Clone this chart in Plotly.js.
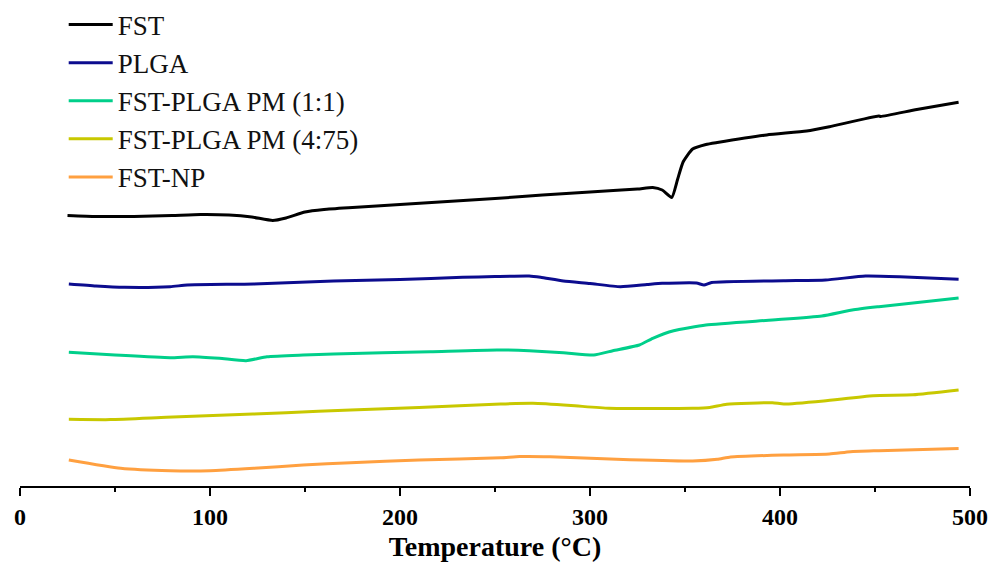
<!DOCTYPE html>
<html>
<head>
<meta charset="utf-8">
<script src="https://cdn.plot.ly/plotly-3.0.1.min.js"></script>
<style>
  html, body { margin: 0; padding: 0; background: #ffffff; }
  #chart { width: 991px; height: 565px; }
</style>
</head>
<body>
<div id="chart"></div>
<script>
// Temperature (°C) and heat flow (arbitrary units, stacked curves)
const fstT = [25, 40, 60, 80, 95, 110, 122, 133, 140, 150, 160, 175, 200, 225, 250, 275, 300, 325, 333, 338, 343, 346, 349, 354, 361, 367, 393, 414, 426, 452, 453, 472, 494];
const fstY = [270.5, 269.5, 269.5, 270.5, 271.5, 271, 269, 265.5, 268, 274, 276.5, 278.5, 281.5, 284.5, 287.5, 291, 294, 297, 298.5, 296, 288.5, 306, 324, 337, 341.5, 343.5, 351, 355, 359.3, 370, 369.5, 376.5, 383.7];

const plgaT = [25.7, 40, 55, 79, 88, 123, 165, 200, 233, 250, 268, 274, 286, 300, 316, 330, 338, 356, 360, 364, 402, 424, 445, 463, 494];
const plgaY = [202, 200, 198.7, 199.3, 201, 202, 205, 206.5, 208.7, 209.5, 210, 208.7, 205, 202.5, 199.3, 201.5, 202.7, 203, 201, 203.5, 205.3, 206, 210, 209.3, 206.7];

const pm11T = [25.7, 50, 79, 91, 105, 119, 130, 149, 165, 216, 251, 268, 286, 302, 312, 326, 333, 344, 361, 396, 422, 438, 452, 494];
const pm11Y = [133.7, 131, 128.3, 129.3, 127.7, 125.3, 129.3, 131, 132, 134.3, 136, 135.3, 133.3, 131, 135.3, 141, 147.7, 155.3, 161, 166, 170, 176, 179.3, 188];

const pm475T = [25.7, 47.6, 77, 105, 140, 174, 210, 253, 270, 290, 310, 354, 363, 372, 396, 402, 423, 449, 470, 494];
const pm475Y = [66.7, 66.4, 68.7, 70.7, 73.3, 76, 78.5, 82, 82.7, 80.5, 77.7, 77.7, 78.5, 81.8, 83.3, 82, 85.1, 90.3, 91.2, 96];

const npT = [25.7, 53, 79, 100, 123, 149, 174, 210, 253, 263, 279, 314, 354, 367, 374, 402, 426, 437, 452, 494];
const npY = [26, 17.7, 15.3, 15.3, 17.7, 21, 23.3, 26, 28.3, 29.5, 29.3, 26.7, 25, 26.7, 29, 31, 32, 34.3, 35.3, 37.5];

const seriesNames = ['FST', 'PLGA', 'FST-PLGA PM (1:1)', 'FST-PLGA PM (4:75)', 'FST-NP'];
const seriesColors = ['#000000', '#0c0c8e', '#00cf8a', '#c8c800', '#ffa040'];
const xTickVals = [0, 100, 200, 300, 400, 500];

const xs = [fstT, plgaT, pm11T, pm475T, npT];
const ys = [fstY, plgaY, pm11Y, pm475Y, npY];

const traces = seriesNames.map((name, i) => ({
  type: 'scatter',
  mode: 'lines',
  name: name,
  x: xs[i],
  y: ys[i],
  line: { color: seriesColors[i], width: 3, shape: 'spline', smoothing: 0.5 },
  hoverinfo: 'skip'
}));

const serif = 'Liberation Serif, Times New Roman, serif';

const layout = {
  width: 991,
  height: 565,
  margin: { l: 20, r: 21, t: 0, b: 79 },
  paper_bgcolor: '#ffffff',
  plot_bgcolor: '#ffffff',
  font: { family: serif, color: '#000000' },
  showlegend: true,
  legend: {
    x: 0.046, y: 0.999, xanchor: 'left', yanchor: 'top',
    font: { family: serif, size: 27, color: '#111111' },
    bgcolor: 'rgba(0,0,0,0)',
    borderwidth: 0,
    itemwidth: 44,
    tracegroupgap: 0
  },
  xaxis: {
    range: [0, 500],
    tickvals: xTickVals,
    ticktext: xTickVals.map(String),
    showgrid: false,
    zeroline: false,
    showline: true,
    linecolor: '#000000',
    linewidth: 2,
    ticks: 'outside',
    ticklen: 8,
    tickwidth: 2,
    tickcolor: '#000000',
    minor: { dtick: 50, ticks: 'outside', ticklen: 4, tickwidth: 2, tickcolor: '#000000', showgrid: false },
    tickfont: { family: serif, size: 24, weight: 'bold', color: '#000000' },
    title: { text: 'Temperature (°C)', font: { family: serif, size: 28, weight: 'bold', color: '#000000' }, standoff: 8 },
    fixedrange: true
  },
  yaxis: {
    range: [0, 486],
    visible: false,
    showgrid: false,
    zeroline: false,
    fixedrange: true
  }
};

Plotly.newPlot('chart', traces, layout, { displayModeBar: false, staticPlot: true });
</script>
</body>
</html>
